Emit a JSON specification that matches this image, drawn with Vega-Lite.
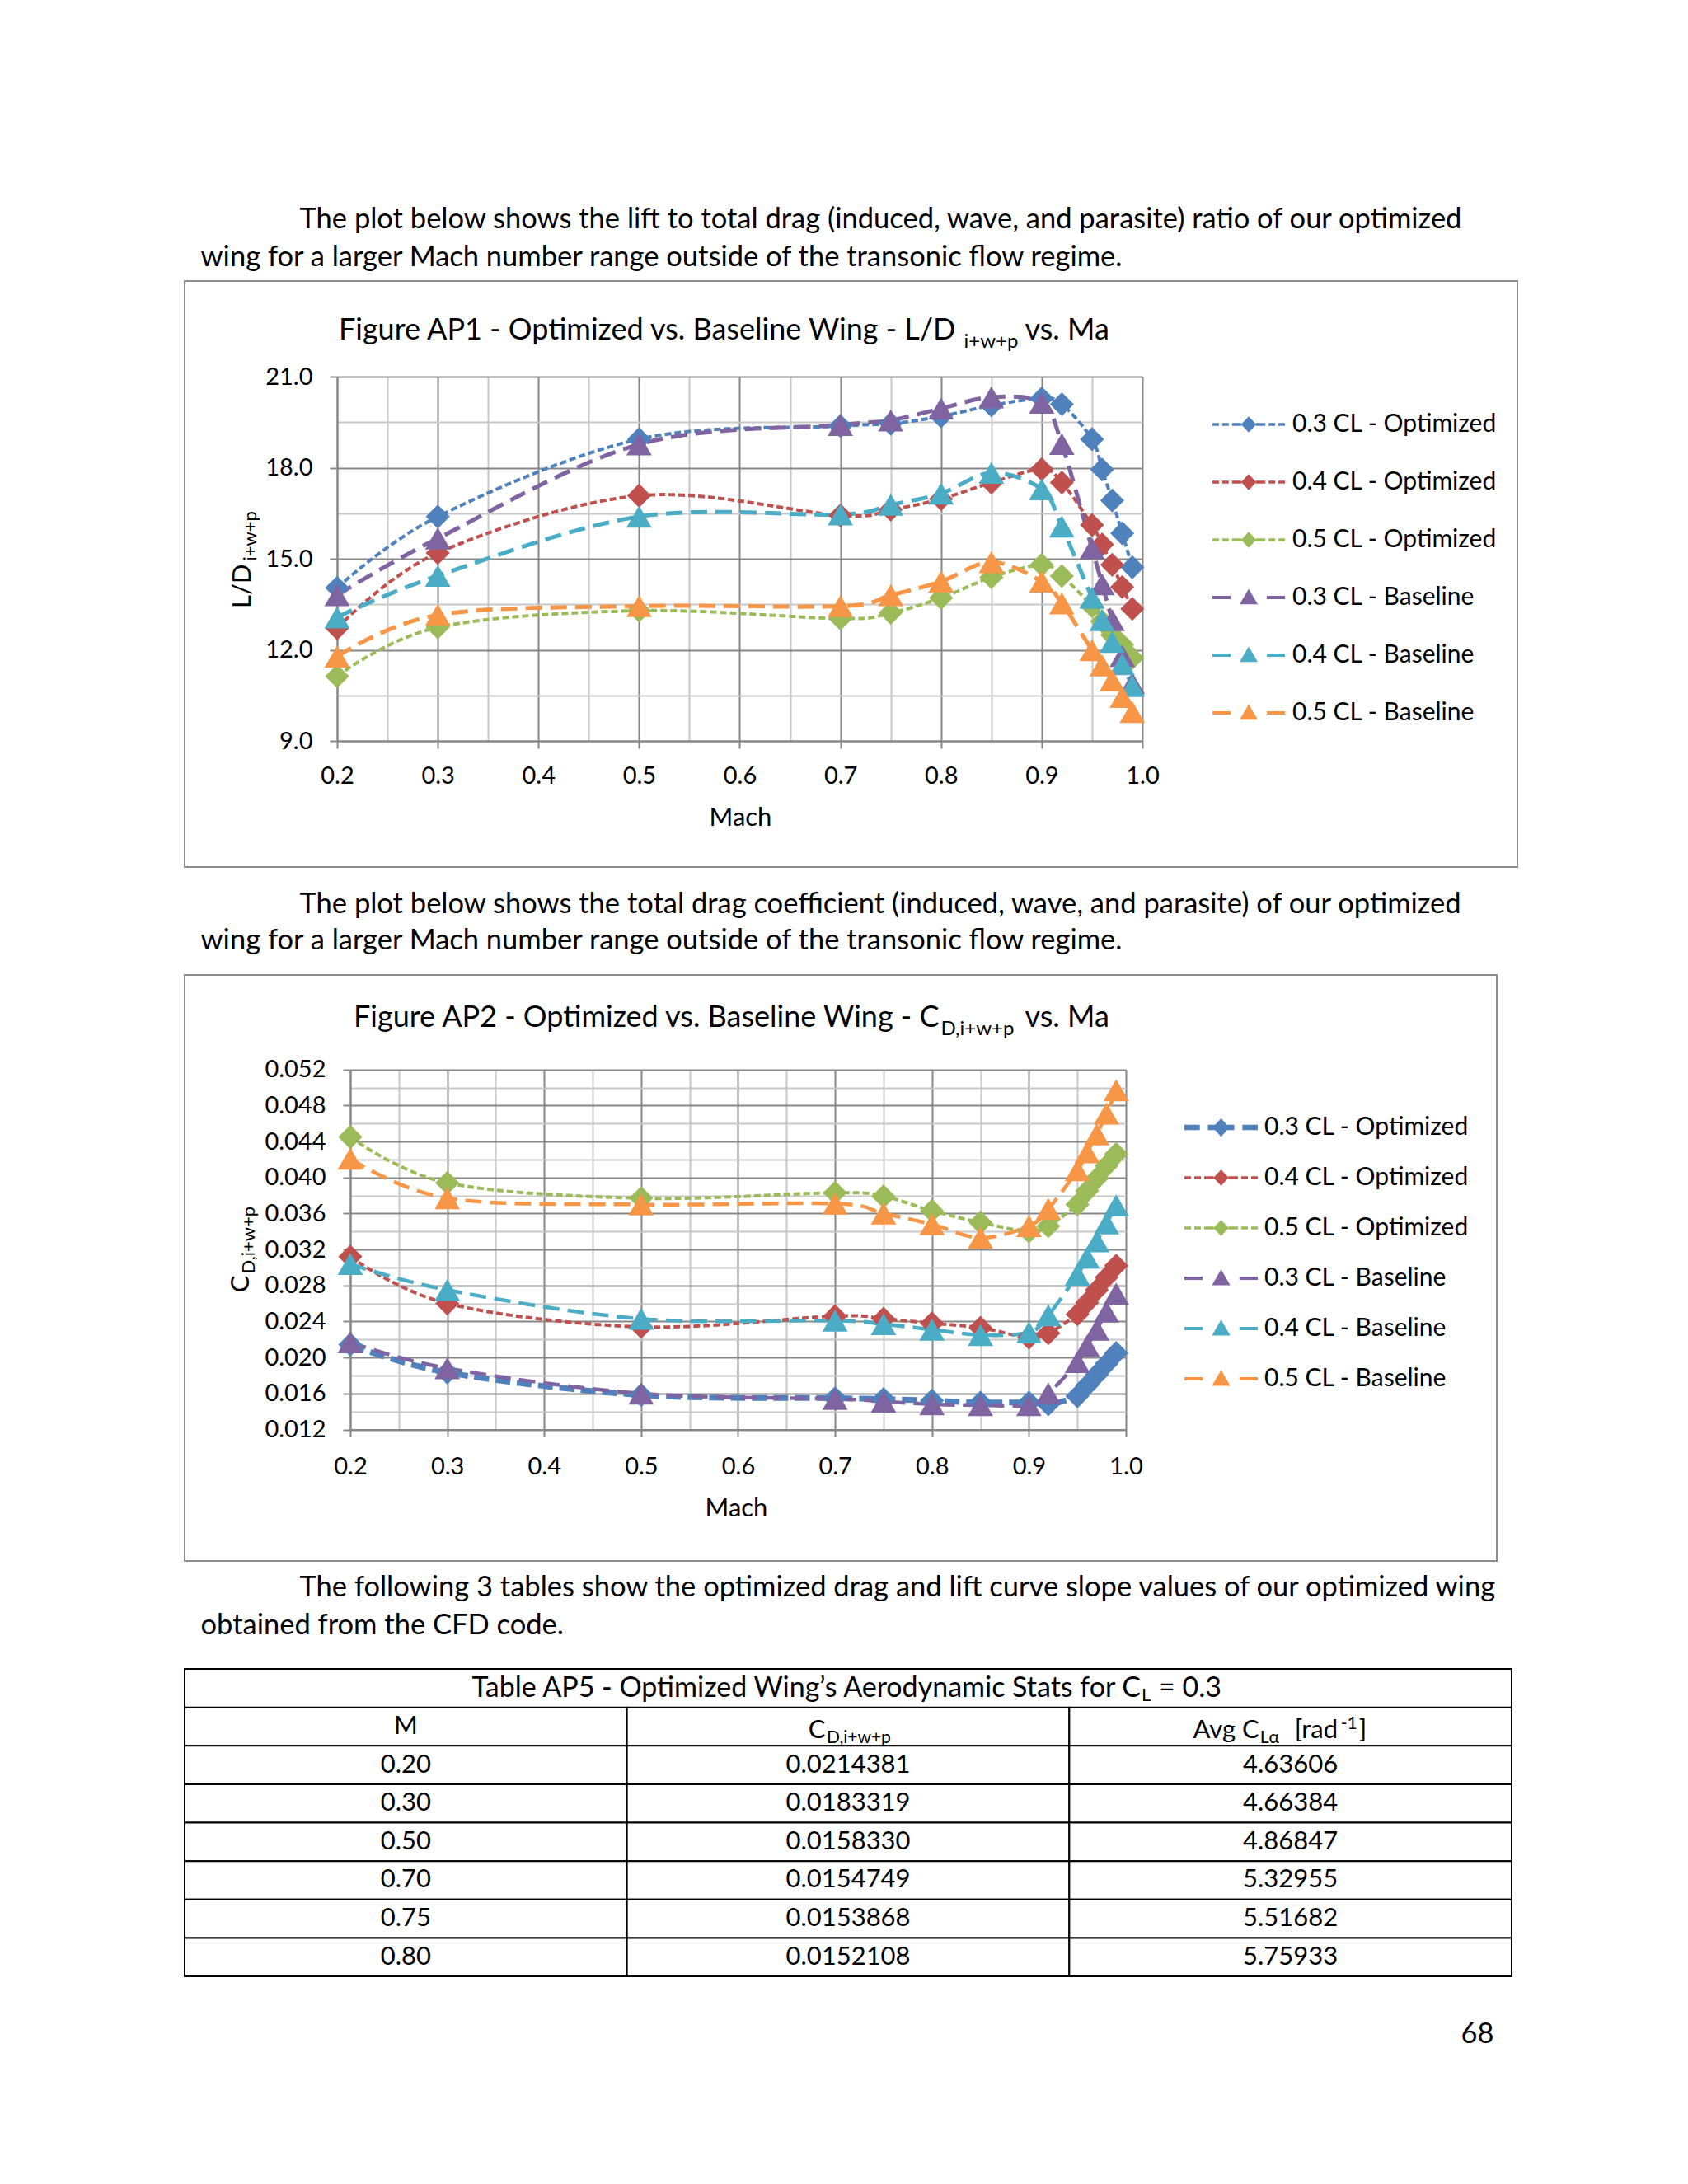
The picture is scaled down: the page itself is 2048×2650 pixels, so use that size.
{
"$schema":"https://vega.github.io/schema/vega-lite/v6.json",
"background":"white",
"padding":{"left":222,"top":247,"right":0,"bottom":0},
"spacing":131,
"bounds":"flush",
"resolve":{"scale":{"color":"independent","fill":"independent","shape":"independent"},"legend":{"color":"independent","fill":"independent","shape":"independent"}},
"config":{"font":"Lato","view":{"stroke":null},
"axis":{"labelFont":"Lato","titleFont":"Lato","labelColor":"black","titleColor":"black","titleFontWeight":"normal","labelFlush":false,"labelOverlap":false},
"legend":{"labelFont":"Lato","labelColor":"black","labelLimit":400},
"title":{"font":"Lato","fontWeight":"normal","color":"black"}},
"datasets":{
"ld":[
{"s":"0.3 CL - Optimized","m":0.2,"v":14.04},{"s":"0.3 CL - Optimized","m":0.3,"v":16.39},{"s":"0.3 CL - Optimized","m":0.5,"v":18.94},{"s":"0.3 CL - Optimized","m":0.7,"v":19.37},{"s":"0.3 CL - Optimized","m":0.75,"v":19.45},{"s":"0.3 CL - Optimized","m":0.8,"v":19.69},{"s":"0.3 CL - Optimized","m":0.85,"v":20.05},{"s":"0.3 CL - Optimized","m":0.9,"v":20.28},{"s":"0.3 CL - Optimized","m":0.92,"v":20.09},{"s":"0.3 CL - Optimized","m":0.95,"v":18.94},{"s":"0.3 CL - Optimized","m":0.96,"v":17.94},{"s":"0.3 CL - Optimized","m":0.97,"v":16.92},{"s":"0.3 CL - Optimized","m":0.98,"v":15.84},{"s":"0.3 CL - Optimized","m":0.99,"v":14.72},
{"s":"0.4 CL - Optimized","m":0.2,"v":12.71},{"s":"0.4 CL - Optimized","m":0.3,"v":15.19},{"s":"0.4 CL - Optimized","m":0.5,"v":17.08},{"s":"0.4 CL - Optimized","m":0.7,"v":16.43},{"s":"0.4 CL - Optimized","m":0.75,"v":16.62},{"s":"0.4 CL - Optimized","m":0.8,"v":16.97},{"s":"0.4 CL - Optimized","m":0.85,"v":17.51},{"s":"0.4 CL - Optimized","m":0.9,"v":17.95},{"s":"0.4 CL - Optimized","m":0.92,"v":17.51},{"s":"0.4 CL - Optimized","m":0.95,"v":16.11},{"s":"0.4 CL - Optimized","m":0.96,"v":15.47},{"s":"0.4 CL - Optimized","m":0.97,"v":14.8},{"s":"0.4 CL - Optimized","m":0.98,"v":14.07},{"s":"0.4 CL - Optimized","m":0.99,"v":13.35},
{"s":"0.5 CL - Optimized","m":0.2,"v":11.13},{"s":"0.5 CL - Optimized","m":0.3,"v":12.74},{"s":"0.5 CL - Optimized","m":0.5,"v":13.29},{"s":"0.5 CL - Optimized","m":0.7,"v":13.03},{"s":"0.5 CL - Optimized","m":0.75,"v":13.22},{"s":"0.5 CL - Optimized","m":0.8,"v":13.71},{"s":"0.5 CL - Optimized","m":0.85,"v":14.39},{"s":"0.5 CL - Optimized","m":0.9,"v":14.8},{"s":"0.5 CL - Optimized","m":0.92,"v":14.43},{"s":"0.5 CL - Optimized","m":0.95,"v":13.44},{"s":"0.5 CL - Optimized","m":0.96,"v":12.94},{"s":"0.5 CL - Optimized","m":0.97,"v":12.49},{"s":"0.5 CL - Optimized","m":0.98,"v":12.17},{"s":"0.5 CL - Optimized","m":0.99,"v":11.73},
{"s":"0.3 CL - Baseline","m":0.2,"v":13.8},{"s":"0.3 CL - Baseline","m":0.3,"v":15.67},{"s":"0.3 CL - Baseline","m":0.5,"v":18.77},{"s":"0.3 CL - Baseline","m":0.7,"v":19.41},{"s":"0.3 CL - Baseline","m":0.75,"v":19.56},{"s":"0.3 CL - Baseline","m":0.8,"v":19.95},{"s":"0.3 CL - Baseline","m":0.85,"v":20.32},{"s":"0.3 CL - Baseline","m":0.9,"v":20.14},{"s":"0.3 CL - Baseline","m":0.92,"v":18.78},{"s":"0.3 CL - Baseline","m":0.95,"v":15.34},{"s":"0.3 CL - Baseline","m":0.96,"v":14.16},{"s":"0.3 CL - Baseline","m":0.97,"v":12.98},{"s":"0.3 CL - Baseline","m":0.98,"v":11.8},{"s":"0.3 CL - Baseline","m":0.99,"v":10.9},
{"s":"0.4 CL - Baseline","m":0.2,"v":13.07},{"s":"0.4 CL - Baseline","m":0.3,"v":14.44},{"s":"0.4 CL - Baseline","m":0.5,"v":16.39},{"s":"0.4 CL - Baseline","m":0.7,"v":16.46},{"s":"0.4 CL - Baseline","m":0.75,"v":16.78},{"s":"0.4 CL - Baseline","m":0.8,"v":17.15},{"s":"0.4 CL - Baseline","m":0.85,"v":17.83},{"s":"0.4 CL - Baseline","m":0.9,"v":17.29},{"s":"0.4 CL - Baseline","m":0.92,"v":16.06},{"s":"0.4 CL - Baseline","m":0.95,"v":13.71},{"s":"0.4 CL - Baseline","m":0.96,"v":12.98},{"s":"0.4 CL - Baseline","m":0.97,"v":12.26},{"s":"0.4 CL - Baseline","m":0.98,"v":11.53},{"s":"0.4 CL - Baseline","m":0.99,"v":10.81},
{"s":"0.5 CL - Baseline","m":0.2,"v":11.78},{"s":"0.5 CL - Baseline","m":0.3,"v":13.15},{"s":"0.5 CL - Baseline","m":0.5,"v":13.44},{"s":"0.5 CL - Baseline","m":0.7,"v":13.44},{"s":"0.5 CL - Baseline","m":0.75,"v":13.8},{"s":"0.5 CL - Baseline","m":0.8,"v":14.25},{"s":"0.5 CL - Baseline","m":0.85,"v":14.89},{"s":"0.5 CL - Baseline","m":0.9,"v":14.25},{"s":"0.5 CL - Baseline","m":0.92,"v":13.53},{"s":"0.5 CL - Baseline","m":0.95,"v":11.99},{"s":"0.5 CL - Baseline","m":0.96,"v":11.49},{"s":"0.5 CL - Baseline","m":0.97,"v":11.0},{"s":"0.5 CL - Baseline","m":0.98,"v":10.45},{"s":"0.5 CL - Baseline","m":0.99,"v":9.95}
],
"cd":[
{"s":"0.3 CL - Optimized","m":0.2,"v":0.0214381},{"s":"0.3 CL - Optimized","m":0.3,"v":0.0183319},{"s":"0.3 CL - Optimized","m":0.5,"v":0.015833},{"s":"0.3 CL - Optimized","m":0.7,"v":0.0154749},{"s":"0.3 CL - Optimized","m":0.75,"v":0.0153868},{"s":"0.3 CL - Optimized","m":0.8,"v":0.0152108},{"s":"0.3 CL - Optimized","m":0.85,"v":0.015},{"s":"0.3 CL - Optimized","m":0.9,"v":0.015},{"s":"0.3 CL - Optimized","m":0.92,"v":0.0148},{"s":"0.3 CL - Optimized","m":0.95,"v":0.0157},{"s":"0.3 CL - Optimized","m":0.96,"v":0.0169},{"s":"0.3 CL - Optimized","m":0.97,"v":0.0181},{"s":"0.3 CL - Optimized","m":0.98,"v":0.0193},{"s":"0.3 CL - Optimized","m":0.99,"v":0.0205},
{"s":"0.4 CL - Optimized","m":0.2,"v":0.0312},{"s":"0.4 CL - Optimized","m":0.3,"v":0.026},{"s":"0.4 CL - Optimized","m":0.5,"v":0.0234},{"s":"0.4 CL - Optimized","m":0.7,"v":0.0246},{"s":"0.4 CL - Optimized","m":0.75,"v":0.0243},{"s":"0.4 CL - Optimized","m":0.8,"v":0.0238},{"s":"0.4 CL - Optimized","m":0.85,"v":0.0233},{"s":"0.4 CL - Optimized","m":0.9,"v":0.0222},{"s":"0.4 CL - Optimized","m":0.92,"v":0.0227},{"s":"0.4 CL - Optimized","m":0.95,"v":0.0248},{"s":"0.4 CL - Optimized","m":0.96,"v":0.0261},{"s":"0.4 CL - Optimized","m":0.97,"v":0.0275},{"s":"0.4 CL - Optimized","m":0.98,"v":0.0289},{"s":"0.4 CL - Optimized","m":0.99,"v":0.0302},
{"s":"0.5 CL - Optimized","m":0.2,"v":0.0445},{"s":"0.5 CL - Optimized","m":0.3,"v":0.0394},{"s":"0.5 CL - Optimized","m":0.5,"v":0.0377},{"s":"0.5 CL - Optimized","m":0.7,"v":0.0383},{"s":"0.5 CL - Optimized","m":0.75,"v":0.0379},{"s":"0.5 CL - Optimized","m":0.8,"v":0.0363},{"s":"0.5 CL - Optimized","m":0.85,"v":0.035},{"s":"0.5 CL - Optimized","m":0.9,"v":0.034},{"s":"0.5 CL - Optimized","m":0.92,"v":0.0346},{"s":"0.5 CL - Optimized","m":0.95,"v":0.037},{"s":"0.5 CL - Optimized","m":0.96,"v":0.0385},{"s":"0.5 CL - Optimized","m":0.97,"v":0.0399},{"s":"0.5 CL - Optimized","m":0.98,"v":0.0413},{"s":"0.5 CL - Optimized","m":0.99,"v":0.0426},
{"s":"0.3 CL - Baseline","m":0.2,"v":0.0217},{"s":"0.3 CL - Baseline","m":0.3,"v":0.0188},{"s":"0.3 CL - Baseline","m":0.5,"v":0.016},{"s":"0.3 CL - Baseline","m":0.7,"v":0.0154},{"s":"0.3 CL - Baseline","m":0.75,"v":0.0151},{"s":"0.3 CL - Baseline","m":0.8,"v":0.0148},{"s":"0.3 CL - Baseline","m":0.85,"v":0.0147},{"s":"0.3 CL - Baseline","m":0.9,"v":0.0147},{"s":"0.3 CL - Baseline","m":0.92,"v":0.016},{"s":"0.3 CL - Baseline","m":0.95,"v":0.0195},{"s":"0.3 CL - Baseline","m":0.96,"v":0.0213},{"s":"0.3 CL - Baseline","m":0.97,"v":0.0231},{"s":"0.3 CL - Baseline","m":0.98,"v":0.0251},{"s":"0.3 CL - Baseline","m":0.99,"v":0.0271},
{"s":"0.4 CL - Baseline","m":0.2,"v":0.0304},{"s":"0.4 CL - Baseline","m":0.3,"v":0.0275},{"s":"0.4 CL - Baseline","m":0.5,"v":0.0243},{"s":"0.4 CL - Baseline","m":0.7,"v":0.0241},{"s":"0.4 CL - Baseline","m":0.75,"v":0.0237},{"s":"0.4 CL - Baseline","m":0.8,"v":0.0231},{"s":"0.4 CL - Baseline","m":0.85,"v":0.0225},{"s":"0.4 CL - Baseline","m":0.9,"v":0.0228},{"s":"0.4 CL - Baseline","m":0.92,"v":0.0247},{"s":"0.4 CL - Baseline","m":0.95,"v":0.0292},{"s":"0.4 CL - Baseline","m":0.96,"v":0.0311},{"s":"0.4 CL - Baseline","m":0.97,"v":0.0329},{"s":"0.4 CL - Baseline","m":0.98,"v":0.0349},{"s":"0.4 CL - Baseline","m":0.99,"v":0.0369},
{"s":"0.5 CL - Baseline","m":0.2,"v":0.0421},{"s":"0.5 CL - Baseline","m":0.3,"v":0.0377},{"s":"0.5 CL - Baseline","m":0.5,"v":0.037},{"s":"0.5 CL - Baseline","m":0.7,"v":0.0371},{"s":"0.5 CL - Baseline","m":0.75,"v":0.036},{"s":"0.5 CL - Baseline","m":0.8,"v":0.0348},{"s":"0.5 CL - Baseline","m":0.85,"v":0.0333},{"s":"0.5 CL - Baseline","m":0.9,"v":0.0346},{"s":"0.5 CL - Baseline","m":0.92,"v":0.0365},{"s":"0.5 CL - Baseline","m":0.95,"v":0.0408},{"s":"0.5 CL - Baseline","m":0.96,"v":0.0428},{"s":"0.5 CL - Baseline","m":0.97,"v":0.0448},{"s":"0.5 CL - Baseline","m":0.98,"v":0.0471},{"s":"0.5 CL - Baseline","m":0.99,"v":0.0497}
]},
"vconcat":[
{
"width":1617,"height":711,
"view":{"stroke":"#8c8c8c","strokeWidth":2},
"data":{"name":"ld"},
"resolve":{"axis":{"x":"independent","y":"independent"},"legend":{"color":"independent"}},
"layer":[
{"transform":[{"filter":"indexof(datum.s,'Optimized')>=0"}],
"mark":{"type":"line","interpolate":"cardinal","strokeDash":[8,4],"strokeWidth":4},
"encoding":{
"x":{"field":"m","type":"quantitative","scale":{"domain":[0.2,1.0],"range":[185,1162],"nice":false,"zero":false},
"axis":{"orient":"top","values":[0.2,0.25,0.3,0.35,0.4,0.45,0.5,0.55,0.6,0.65,0.7,0.75,0.8,0.85,0.9,0.95,1.0],"grid":true,"gridColor":{"condition":{"test":"abs(datum.value*10-round(datum.value*10))<0.01","value":"#878787"},"value":"#c8c8c8"},"gridWidth":2,"labels":false,"ticks":false,"domain":false,
"title":"Figure AP1 - Optimized vs. Baseline Wing - L/D","titleX":935,"titleY":70,"titleAlign":"right","titleBaseline":"alphabetic","titleAngle":0,"titleFontSize":36}},
"y":{"field":"v","type":"quantitative","scale":{"domain":[9,21],"range":[558,116],"nice":false,"zero":false},
"axis":{"orient":"left","offset":-185,"values":[9,10.5,12,13.5,15,16.5,18,19.5,21],"grid":true,"gridColor":{"condition":{"test":"abs(datum.value/3-round(datum.value/3))<0.01","value":"#878787"},"value":"#c8c8c8"},"gridWidth":2,"domain":true,"domainColor":"#878787","domainWidth":2,"ticks":true,"tickSize":9,"tickWidth":2,"tickColor":"#878787","tickOpacity":{"condition":{"test":"abs(datum.value/3-round(datum.value/3))<0.01","value":1},"value":0},
"labelExpr":"abs(datum.value/3-round(datum.value/3))<0.01 ? format(datum.value,'.1f') : ''","labelFontSize":29,"labelPadding":21,
"title":"L/D","titleX":-106,"titleY":343,"titleAngle":-90,"titleAlign":"right","titleBaseline":"alphabetic","titleFontSize":31}},
"color":{"field":"s","type":"nominal","scale":{"domain":["0.5 CL - Baseline","0.4 CL - Baseline","0.3 CL - Baseline","0.5 CL - Optimized","0.4 CL - Optimized","0.3 CL - Optimized"],"range":["#F79646","#4BACC6","#8064A2","#9BBB59","#C0504D","#4F81BD"]},"legend":null}}},
{"transform":[{"filter":"indexof(datum.s,'Baseline')>=0"}],
"mark":{"type":"line","interpolate":"cardinal","strokeDash":[20,10],"strokeWidth":5},
"encoding":{
"x":{"field":"m","type":"quantitative","scale":{"domain":[0.2,1.0],"range":[185,1162],"nice":false,"zero":false},
"axis":{"orient":"bottom","offset":-153,"values":[0.2,0.3,0.4,0.5,0.6,0.7,0.8,0.9,1.0],"format":".1f","grid":false,"domain":true,"domainColor":"#878787","domainWidth":2,"ticks":true,"tickSize":9,"tickWidth":2,"tickColor":"#878787","labelFontSize":29,"labelPadding":33,"labelBaseline":"middle",
"title":"Mach","titleX":674,"titleY":93,"titleAlign":"center","titleBaseline":"middle","titleAngle":0,"titleFontSize":31}},
"y":{"field":"v","type":"quantitative","scale":{"domain":[9,21],"range":[558,116],"nice":false,"zero":false},
"axis":{"orient":"left","labels":false,"ticks":false,"domain":false,"grid":false,"title":"i+w+p","titleX":86,"titleY":339,"titleAngle":-90,"titleAlign":"left","titleBaseline":"alphabetic","titleFontSize":22}},
"color":{"field":"s","type":"nominal","scale":{"domain":["0.5 CL - Baseline","0.4 CL - Baseline","0.3 CL - Baseline","0.5 CL - Optimized","0.4 CL - Optimized","0.3 CL - Optimized"],"range":["#F79646","#4BACC6","#8064A2","#9BBB59","#C0504D","#4F81BD"]},"legend":null}}},
{"transform":[{"filter":"indexof(datum.s,'Optimized')>=0"}],
"mark":{"type":"point","shape":"diamond","filled":true,"size":850,"opacity":1},
"encoding":{
"x":{"field":"m","type":"quantitative","scale":{"domain":[0.2,1.0],"range":[185,1162],"nice":false,"zero":false},
"axis":{"orient":"top","labels":false,"ticks":false,"domain":false,"grid":false,"title":"i+w+p","titleX":945,"titleY":80,"titleAlign":"left","titleBaseline":"alphabetic","titleAngle":0,"titleFontSize":24}},
"y":{"field":"v","type":"quantitative","scale":{"domain":[9,21],"range":[558,116],"nice":false,"zero":false},
"axis":{"orient":"left","labels":false,"ticks":false,"domain":false,"grid":false,"title":"vs. Ma","titleX":1019,"titleY":70,"titleAngle":0,"titleAlign":"left","titleBaseline":"alphabetic","titleFontSize":36}},
"color":{"field":"s","type":"nominal","scale":{"domain":["0.5 CL - Baseline","0.4 CL - Baseline","0.3 CL - Baseline","0.5 CL - Optimized","0.4 CL - Optimized","0.3 CL - Optimized"],"range":["#F79646","#4BACC6","#8064A2","#9BBB59","#C0504D","#4F81BD"]},"legend":null}}},
{"transform":[{"filter":"indexof(datum.s,'Baseline')>=0"}],
"mark":{"type":"point","shape":"triangle-up","filled":true,"size":950,"opacity":1},
"encoding":{
"x":{"field":"m","type":"quantitative","scale":{"domain":[0.2,1.0],"range":[185,1162],"nice":false,"zero":false},
"axis":{"orient":"top","labels":false,"ticks":false,"domain":false,"grid":false,"title":"The plot below shows the lift to total drag (induced, wave, and parasite) ratio of our optimized","titleX":139,"titleY":-75,"titleAlign":"left","titleBaseline":"middle","titleAngle":0,"titleFontSize":34.5}},
"y":{"field":"v","type":"quantitative","scale":{"domain":[9,21],"range":[558,116],"nice":false,"zero":false},
"axis":{"orient":"left","labels":false,"ticks":false,"domain":false,"grid":false,"title":"wing for a larger Mach number range outside of the transonic flow regime.","titleX":19,"titleY":-29,"titleAlign":"left","titleBaseline":"middle","titleAngle":0,"titleFontSize":34.5}},
"color":{"field":"s","type":"nominal","scale":{"domain":["0.5 CL - Baseline","0.4 CL - Baseline","0.3 CL - Baseline","0.5 CL - Optimized","0.4 CL - Optimized","0.3 CL - Optimized"],"range":["#F79646","#4BACC6","#8064A2","#9BBB59","#C0504D","#4F81BD"]},"legend":null}}},
{"transform":[{"filter":"datum.m==0.2"}],
"mark":{"type":"point","filled":true,"opacity":1,"size":1},
"encoding":{
"x":{"field":"m","type":"quantitative","scale":{"domain":[0.2,1.0],"range":[185,1162],"nice":false,"zero":false},"axis":null},
"y":{"field":"v","type":"quantitative","scale":{"domain":[9,21],"range":[558,116],"nice":false,"zero":false},"axis":null},
"fill":{"field":"s","type":"nominal","scale":{"domain":["0.3 CL - Optimized","0.4 CL - Optimized","0.5 CL - Optimized","0.3 CL - Baseline","0.4 CL - Baseline","0.5 CL - Baseline"],"range":["#4F81BD","#C0504D","#9BBB59","#8064A2","#4BACC6","#F79646"]},
"legend":{"orient":"none","legendX":1247,"legendY":130,"direction":"vertical","title":null,"padding":0,"symbolSize":7744,"symbolStrokeWidth":0,"symbolOpacity":1,"labelFontSize":30,"labelOffset":9,"labelLimit":400,"rowPadding":11}},
"shape":{"field":"s","type":"nominal","scale":{"domain":["0.3 CL - Optimized","0.4 CL - Optimized","0.5 CL - Optimized","0.3 CL - Baseline","0.4 CL - Baseline","0.5 CL - Baseline"],"range":["M-1,-0.04L-0.82,-0.04L-0.82,0.04L-1,0.04ZM-0.73,-0.04L-0.55,-0.04L-0.55,0.04L-0.73,0.04ZM-0.46,-0.04L-0.2,-0.04L-0.2,0.04L-0.46,0.04ZM0.2,-0.04L0.46,-0.04L0.46,0.04L0.2,0.04ZM0.55,-0.04L0.73,-0.04L0.73,0.04L0.55,0.04ZM0.82,-0.04L1,-0.04L1,0.04L0.82,0.04ZM0,-0.22L0.21,0L0,0.22L-0.21,0Z","M-1,-0.04L-0.82,-0.04L-0.82,0.04L-1,0.04ZM-0.73,-0.04L-0.55,-0.04L-0.55,0.04L-0.73,0.04ZM-0.46,-0.04L-0.2,-0.04L-0.2,0.04L-0.46,0.04ZM0.2,-0.04L0.46,-0.04L0.46,0.04L0.2,0.04ZM0.55,-0.04L0.73,-0.04L0.73,0.04L0.55,0.04ZM0.82,-0.04L1,-0.04L1,0.04L0.82,0.04ZM0,-0.22L0.21,0L0,0.22L-0.21,0Z","M-1,-0.04L-0.82,-0.04L-0.82,0.04L-1,0.04ZM-0.73,-0.04L-0.55,-0.04L-0.55,0.04L-0.73,0.04ZM-0.46,-0.04L-0.2,-0.04L-0.2,0.04L-0.46,0.04ZM0.2,-0.04L0.46,-0.04L0.46,0.04L0.2,0.04ZM0.55,-0.04L0.73,-0.04L0.73,0.04L0.55,0.04ZM0.82,-0.04L1,-0.04L1,0.04L0.82,0.04ZM0,-0.22L0.21,0L0,0.22L-0.21,0Z","M-1,-0.045L-0.5,-0.045L-0.5,0.045L-1,0.045ZM0.5,-0.045L1,-0.045L1,0.045L0.5,0.045ZM0,-0.24L0.25,0.19L-0.25,0.19Z","M-1,-0.045L-0.5,-0.045L-0.5,0.045L-1,0.045ZM0.5,-0.045L1,-0.045L1,0.045L0.5,0.045ZM0,-0.24L0.25,0.19L-0.25,0.19Z","M-1,-0.045L-0.5,-0.045L-0.5,0.045L-1,0.045ZM0.5,-0.045L1,-0.045L1,0.045L0.5,0.045ZM0,-0.24L0.25,0.19L-0.25,0.19Z"]},
"legend":{"orient":"none","legendX":1247,"legendY":130,"direction":"vertical","title":null,"padding":0,"symbolSize":7744,"symbolStrokeWidth":0,"symbolOpacity":1,"labelFontSize":30,"labelOffset":9,"labelLimit":400,"rowPadding":11}}}}
]},
{
"width":1592,"height":711,
"view":{"stroke":"#8c8c8c","strokeWidth":2},
"data":{"name":"cd"},
"resolve":{"axis":{"x":"independent","y":"independent"},"legend":{"color":"independent"}},
"layer":[
{"transform":[{"filter":"datum.s=='0.3 CL - Optimized'"}],
"mark":{"type":"line","interpolate":"cardinal","strokeDash":[18,8],"strokeWidth":7},
"encoding":{
"x":{"field":"m","type":"quantitative","scale":{"domain":[0.2,1.0],"range":[201,1142],"nice":false,"zero":false},
"axis":{"orient":"top","values":[0.2,0.25,0.3,0.35,0.4,0.45,0.5,0.55,0.6,0.65,0.7,0.75,0.8,0.85,0.9,0.95,1.0],"grid":true,"gridColor":{"condition":{"test":"abs(datum.value*10-round(datum.value*10))<0.01","value":"#878787"},"value":"#c8c8c8"},"gridWidth":2,"labels":false,"ticks":false,"domain":false,
"title":"Figure AP2 - Optimized vs. Baseline Wing - C","titleX":915,"titleY":62,"titleAlign":"right","titleBaseline":"alphabetic","titleAngle":0,"titleFontSize":36}},
"y":{"field":"v","type":"quantitative","scale":{"domain":[0.012,0.052],"range":[551.5,114.7],"nice":false,"zero":false},
"axis":{"orient":"left","offset":-201,"values":[0.012,0.014,0.016,0.018,0.02,0.022,0.024,0.026,0.028,0.03,0.032,0.034,0.036,0.038,0.04,0.042,0.044,0.046,0.048,0.05,0.052],"grid":true,"gridColor":{"condition":{"test":"abs(datum.value/0.004-round(datum.value/0.004))<0.01","value":"#878787"},"value":"#c8c8c8"},"gridWidth":2,"domain":true,"domainColor":"#878787","domainWidth":2,"ticks":true,"tickSize":9,"tickWidth":2,"tickColor":"#878787","tickOpacity":{"condition":{"test":"abs(datum.value/0.004-round(datum.value/0.004))<0.01","value":1},"value":0},
"labelExpr":"abs(datum.value/0.004-round(datum.value/0.004))<0.01 ? format(datum.value,'.3f') : ''","labelFontSize":29,"labelPadding":21,
"title":"C","titleX":-124,"titleY":364,"titleAngle":-90,"titleAlign":"right","titleBaseline":"alphabetic","titleFontSize":31}},
"color":{"field":"s","type":"nominal","scale":{"domain":["0.5 CL - Baseline","0.4 CL - Baseline","0.3 CL - Baseline","0.5 CL - Optimized","0.4 CL - Optimized","0.3 CL - Optimized"],"range":["#F79646","#4BACC6","#8064A2","#9BBB59","#C0504D","#4F81BD"]},"legend":null}}},
{"transform":[{"filter":"datum.s=='0.4 CL - Optimized' || datum.s=='0.5 CL - Optimized'"}],
"mark":{"type":"line","interpolate":"cardinal","strokeDash":[8,4],"strokeWidth":4},
"encoding":{
"x":{"field":"m","type":"quantitative","scale":{"domain":[0.2,1.0],"range":[201,1142],"nice":false,"zero":false},
"axis":{"orient":"bottom","offset":-159.5,"values":[0.2,0.3,0.4,0.5,0.6,0.7,0.8,0.9,1.0],"format":".1f","grid":false,"domain":true,"domainColor":"#878787","domainWidth":2,"ticks":true,"tickSize":9,"tickWidth":2,"tickColor":"#878787","labelFontSize":29,"labelPadding":35.5,"labelBaseline":"middle",
"title":"Mach","titleX":669,"titleY":95.5,"titleAlign":"center","titleBaseline":"middle","titleAngle":0,"titleFontSize":31}},
"y":{"field":"v","type":"quantitative","scale":{"domain":[0.012,0.052],"range":[551.5,114.7],"nice":false,"zero":false},
"axis":{"orient":"left","labels":false,"ticks":false,"domain":false,"grid":false,"title":"D,i+w+p","titleX":84,"titleY":362,"titleAngle":-90,"titleAlign":"left","titleBaseline":"alphabetic","titleFontSize":22}},
"color":{"field":"s","type":"nominal","scale":{"domain":["0.5 CL - Baseline","0.4 CL - Baseline","0.3 CL - Baseline","0.5 CL - Optimized","0.4 CL - Optimized","0.3 CL - Optimized"],"range":["#F79646","#4BACC6","#8064A2","#9BBB59","#C0504D","#4F81BD"]},"legend":null}}},
{"transform":[{"filter":"indexof(datum.s,'Baseline')>=0"}],
"mark":{"type":"line","interpolate":"cardinal","strokeDash":[20,10],"strokeWidth":4.5},
"encoding":{
"x":{"field":"m","type":"quantitative","scale":{"domain":[0.2,1.0],"range":[201,1142],"nice":false,"zero":false},
"axis":{"orient":"top","labels":false,"ticks":false,"domain":false,"grid":false,"title":"D,i+w+p","titleX":917,"titleY":72,"titleAlign":"left","titleBaseline":"alphabetic","titleAngle":0,"titleFontSize":24}},
"y":{"field":"v","type":"quantitative","scale":{"domain":[0.012,0.052],"range":[551.5,114.7],"nice":false,"zero":false},
"axis":{"orient":"left","labels":false,"ticks":false,"domain":false,"grid":false,"title":"vs. Ma","titleX":1019,"titleY":62,"titleAngle":0,"titleAlign":"left","titleBaseline":"alphabetic","titleFontSize":36}},
"color":{"field":"s","type":"nominal","scale":{"domain":["0.5 CL - Baseline","0.4 CL - Baseline","0.3 CL - Baseline","0.5 CL - Optimized","0.4 CL - Optimized","0.3 CL - Optimized"],"range":["#F79646","#4BACC6","#8064A2","#9BBB59","#C0504D","#4F81BD"]},"legend":null}}},
{"transform":[{"filter":"indexof(datum.s,'Optimized')>=0"}],
"mark":{"type":"point","shape":"diamond","filled":true,"size":850,"opacity":1},
"encoding":{
"x":{"field":"m","type":"quantitative","scale":{"domain":[0.2,1.0],"range":[201,1142],"nice":false,"zero":false},
"axis":{"orient":"top","labels":false,"ticks":false,"domain":false,"grid":false,"title":"The plot below shows the total drag coefficient (induced, wave, and parasite) of our optimized","titleX":139,"titleY":-86,"titleAlign":"left","titleBaseline":"middle","titleAngle":0,"titleFontSize":34.5}},
"y":{"field":"v","type":"quantitative","scale":{"domain":[0.012,0.052],"range":[551.5,114.7],"nice":false,"zero":false},
"axis":{"orient":"left","labels":false,"ticks":false,"domain":false,"grid":false,"title":"wing for a larger Mach number range outside of the transonic flow regime.","titleX":19,"titleY":-42,"titleAlign":"left","titleBaseline":"middle","titleAngle":0,"titleFontSize":34.5}},
"color":{"field":"s","type":"nominal","scale":{"domain":["0.5 CL - Baseline","0.4 CL - Baseline","0.3 CL - Baseline","0.5 CL - Optimized","0.4 CL - Optimized","0.3 CL - Optimized"],"range":["#F79646","#4BACC6","#8064A2","#9BBB59","#C0504D","#4F81BD"]},"legend":null}}},
{"transform":[{"filter":"indexof(datum.s,'Baseline')>=0"}],
"mark":{"type":"point","shape":"triangle-up","filled":true,"size":950,"opacity":1},
"encoding":{
"x":{"field":"m","type":"quantitative","scale":{"domain":[0.2,1.0],"range":[201,1142],"nice":false,"zero":false},"axis":null},
"y":{"field":"v","type":"quantitative","scale":{"domain":[0.012,0.052],"range":[551.5,114.7],"nice":false,"zero":false},"axis":null},
"color":{"field":"s","type":"nominal","scale":{"domain":["0.5 CL - Baseline","0.4 CL - Baseline","0.3 CL - Baseline","0.5 CL - Optimized","0.4 CL - Optimized","0.3 CL - Optimized"],"range":["#F79646","#4BACC6","#8064A2","#9BBB59","#C0504D","#4F81BD"]},"legend":null}}},
{"transform":[{"filter":"datum.m==0.2"}],
"mark":{"type":"point","filled":true,"opacity":1,"size":1},
"encoding":{
"x":{"field":"m","type":"quantitative","scale":{"domain":[0.2,1.0],"range":[201,1142],"nice":false,"zero":false},"axis":null},
"y":{"field":"v","type":"quantitative","scale":{"domain":[0.012,0.052],"range":[551.5,114.7],"nice":false,"zero":false},"axis":null},
"fill":{"field":"s","type":"nominal","scale":{"domain":["0.3 CL - Optimized","0.4 CL - Optimized","0.5 CL - Optimized","0.3 CL - Baseline","0.4 CL - Baseline","0.5 CL - Baseline"],"range":["#4F81BD","#C0504D","#9BBB59","#8064A2","#4BACC6","#F79646"]},
"legend":{"orient":"none","legendX":1213,"legendY":140.5,"direction":"vertical","title":null,"padding":0,"symbolSize":7921,"symbolStrokeWidth":0,"symbolOpacity":1,"labelFontSize":30,"labelOffset":8,"labelLimit":400,"rowPadding":1}},
"shape":{"field":"s","type":"nominal","scale":{"domain":["0.3 CL - Optimized","0.4 CL - Optimized","0.5 CL - Optimized","0.3 CL - Baseline","0.4 CL - Baseline","0.5 CL - Baseline"],"range":["M-1,-0.075L-0.58,-0.075L-0.58,0.075L-1,0.075ZM-0.36,-0.075L0.36,-0.075L0.36,0.075L-0.36,0.075ZM0.58,-0.075L1,-0.075L1,0.075L0.58,0.075ZM0,-0.25L0.23,0L0,0.25L-0.23,0Z","M-1,-0.04L-0.82,-0.04L-0.82,0.04L-1,0.04ZM-0.73,-0.04L-0.55,-0.04L-0.55,0.04L-0.73,0.04ZM-0.46,-0.04L-0.2,-0.04L-0.2,0.04L-0.46,0.04ZM0.2,-0.04L0.46,-0.04L0.46,0.04L0.2,0.04ZM0.55,-0.04L0.73,-0.04L0.73,0.04L0.55,0.04ZM0.82,-0.04L1,-0.04L1,0.04L0.82,0.04ZM0,-0.22L0.21,0L0,0.22L-0.21,0Z","M-1,-0.04L-0.82,-0.04L-0.82,0.04L-1,0.04ZM-0.73,-0.04L-0.55,-0.04L-0.55,0.04L-0.73,0.04ZM-0.46,-0.04L-0.2,-0.04L-0.2,0.04L-0.46,0.04ZM0.2,-0.04L0.46,-0.04L0.46,0.04L0.2,0.04ZM0.55,-0.04L0.73,-0.04L0.73,0.04L0.55,0.04ZM0.82,-0.04L1,-0.04L1,0.04L0.82,0.04ZM0,-0.22L0.21,0L0,0.22L-0.21,0Z","M-1,-0.045L-0.5,-0.045L-0.5,0.045L-1,0.045ZM0.5,-0.045L1,-0.045L1,0.045L0.5,0.045ZM0,-0.24L0.25,0.19L-0.25,0.19Z","M-1,-0.045L-0.5,-0.045L-0.5,0.045L-1,0.045ZM0.5,-0.045L1,-0.045L1,0.045L0.5,0.045ZM0,-0.24L0.25,0.19L-0.25,0.19Z","M-1,-0.045L-0.5,-0.045L-0.5,0.045L-1,0.045ZM0.5,-0.045L1,-0.045L1,0.045L0.5,0.045ZM0,-0.24L0.25,0.19L-0.25,0.19Z"]},
"legend":{"orient":"none","legendX":1213,"legendY":140.5,"direction":"vertical","title":null,"padding":0,"symbolSize":7921,"symbolStrokeWidth":0,"symbolOpacity":1,"labelFontSize":30,"labelOffset":8,"labelLimit":400,"rowPadding":1}}}}
]},
{
"width":1610,"height":373,
"view":{"stroke":"black","strokeWidth":2},
"resolve":{"axis":{"x":"independent","y":"independent"}},
"layer":[
{"data":{"values":[{"r":"h","c":"a"},{"r":"h","c":"b"},{"r":"h","c":"c"},{"r":"1","c":"a"},{"r":"1","c":"b"},{"r":"1","c":"c"},{"r":"2","c":"a"},{"r":"2","c":"b"},{"r":"2","c":"c"},{"r":"3","c":"a"},{"r":"3","c":"b"},{"r":"3","c":"c"},{"r":"4","c":"a"},{"r":"4","c":"b"},{"r":"4","c":"c"},{"r":"5","c":"a"},{"r":"5","c":"b"},{"r":"5","c":"c"},{"r":"6","c":"a"},{"r":"6","c":"b"},{"r":"6","c":"c"}]},
"mark":{"type":"rect","fill":"white","stroke":"black","strokeWidth":2},
"encoding":{
"x":{"field":"c","type":"nominal","scale":{"type":"band","domain":["a","b","c"],"paddingInner":0,"paddingOuter":0},
"axis":{"orient":"bottom","labels":false,"ticks":false,"domain":false,"grid":false,"title":"68","titleX":1588,"titleY":70,"titleAlign":"right","titleBaseline":"middle","titleAngle":0,"titleFontSize":34.5}},
"y":{"field":"r","type":"nominal","scale":{"type":"band","domain":["t","h","1","2","3","4","5","6"],"paddingInner":0,"paddingOuter":0},
"axis":{"orient":"left","labels":false,"ticks":false,"domain":false,"grid":false,"title":"obtained from the CFD code.","titleX":19,"titleY":-53,"titleAlign":"left","titleBaseline":"middle","titleAngle":0,"titleFontSize":34.5}}}},
{"data":{"values":[{"r":"h","c":"a","t":"M"},{"r":"1","c":"a","t":"0.20"},{"r":"1","c":"b","t":"0.0214381"},{"r":"1","c":"c","t":"4.63606"},{"r":"2","c":"a","t":"0.30"},{"r":"2","c":"b","t":"0.0183319"},{"r":"2","c":"c","t":"4.66384"},{"r":"3","c":"a","t":"0.50"},{"r":"3","c":"b","t":"0.0158330"},{"r":"3","c":"c","t":"4.86847"},{"r":"4","c":"a","t":"0.70"},{"r":"4","c":"b","t":"0.0154749"},{"r":"4","c":"c","t":"5.32955"},{"r":"5","c":"a","t":"0.75"},{"r":"5","c":"b","t":"0.0153868"},{"r":"5","c":"c","t":"5.51682"},{"r":"6","c":"a","t":"0.80"},{"r":"6","c":"b","t":"0.0152108"},{"r":"6","c":"c","t":"5.75933"}]},
"mark":{"type":"text","fontSize":31,"align":"center","baseline":"middle","color":"black"},
"encoding":{"x":{"field":"c","type":"nominal","scale":{"type":"band","domain":["a","b","c"],"paddingInner":0,"paddingOuter":0},
"axis":{"orient":"top","labels":false,"ticks":false,"domain":false,"grid":false,"title":"The following 3 tables show the optimized drag and lift curve slope values of our optimized wing","titleX":139,"titleY":-99,"titleAlign":"left","titleBaseline":"middle","titleAngle":0,"titleFontSize":34.5}},
"y":{"field":"r","type":"nominal","scale":{"type":"band","domain":["t","h","1","2","3","4","5","6"],"paddingInner":0,"paddingOuter":0},"axis":null},"text":{"field":"t"}}},
{"data":{"values":[{"r":"t","c":"b","t":"Table AP5 - Optimized Wing’s Aerodynamic Stats for C"}]},
"mark":{"type":"text","fontSize":34,"align":"right","baseline":"alphabetic","dx":355,"dy":10.5,"color":"black"},
"encoding":{"x":{"field":"c","type":"nominal","scale":{"type":"band","domain":["a","b","c"],"paddingInner":0,"paddingOuter":0},"axis":null},"y":{"field":"r","type":"nominal","scale":{"type":"band","domain":["t","h","1","2","3","4","5","6"],"paddingInner":0,"paddingOuter":0},"axis":null},"text":{"field":"t"}}},
{"data":{"values":[{"r":"t","c":"b","t":"L"}]},
"mark":{"type":"text","fontSize":22,"align":"left","baseline":"alphabetic","dx":356,"dy":15.5,"color":"black"},
"encoding":{"x":{"field":"c","type":"nominal","scale":{"type":"band","domain":["a","b","c"],"paddingInner":0,"paddingOuter":0},"axis":null},"y":{"field":"r","type":"nominal","scale":{"type":"band","domain":["t","h","1","2","3","4","5","6"],"paddingInner":0,"paddingOuter":0},"axis":null},"text":{"field":"t"}}},
{"data":{"values":[{"r":"t","c":"b","t":"= 0.3"}]},
"mark":{"type":"text","fontSize":34,"align":"left","baseline":"alphabetic","dx":377,"dy":10.5,"color":"black"},
"encoding":{"x":{"field":"c","type":"nominal","scale":{"type":"band","domain":["a","b","c"],"paddingInner":0,"paddingOuter":0},"axis":null},"y":{"field":"r","type":"nominal","scale":{"type":"band","domain":["t","h","1","2","3","4","5","6"],"paddingInner":0,"paddingOuter":0},"axis":null},"text":{"field":"t"}}},
{"data":{"values":[{"r":"h","c":"b","t":"C"}]},
"mark":{"type":"text","fontSize":31,"align":"right","baseline":"alphabetic","dx":-27.5,"dy":14,"color":"black"},
"encoding":{"x":{"field":"c","type":"nominal","scale":{"type":"band","domain":["a","b","c"],"paddingInner":0,"paddingOuter":0},"axis":null},"y":{"field":"r","type":"nominal","scale":{"type":"band","domain":["t","h","1","2","3","4","5","6"],"paddingInner":0,"paddingOuter":0},"axis":null},"text":{"field":"t"}}},
{"data":{"values":[{"r":"h","c":"c","t":"Avg C"}]},
"mark":{"type":"text","fontSize":31,"align":"right","baseline":"alphabetic","dx":-38,"dy":14,"color":"black"},
"encoding":{"x":{"field":"c","type":"nominal","scale":{"type":"band","domain":["a","b","c"],"paddingInner":0,"paddingOuter":0},"axis":null},"y":{"field":"r","type":"nominal","scale":{"type":"band","domain":["t","h","1","2","3","4","5","6"],"paddingInner":0,"paddingOuter":0},"axis":null},"text":{"field":"t"}}},
{"data":{"values":[{"r":"h","c":"b","t":"D,i+w+p"}]},
"mark":{"type":"text","fontSize":21,"align":"left","baseline":"alphabetic","dx":-26,"dy":20,"color":"black"},
"encoding":{"x":{"field":"c","type":"nominal","scale":{"type":"band","domain":["a","b","c"],"paddingInner":0,"paddingOuter":0},"axis":null},"y":{"field":"r","type":"nominal","scale":{"type":"band","domain":["t","h","1","2","3","4","5","6"],"paddingInner":0,"paddingOuter":0},"axis":null},"text":{"field":"t"}}},
{"data":{"values":[{"r":"h","c":"c","t":"Lα"}]},
"mark":{"type":"text","fontSize":21,"align":"left","baseline":"alphabetic","dx":-37,"dy":20,"color":"black"},
"encoding":{"x":{"field":"c","type":"nominal","scale":{"type":"band","domain":["a","b","c"],"paddingInner":0,"paddingOuter":0},"axis":null},"y":{"field":"r","type":"nominal","scale":{"type":"band","domain":["t","h","1","2","3","4","5","6"],"paddingInner":0,"paddingOuter":0},"axis":null},"text":{"field":"t"}}},
{"data":{"values":[{"r":"h","c":"c","t":"[rad"}]},
"mark":{"type":"text","fontSize":31,"align":"left","baseline":"alphabetic","dx":5,"dy":14,"color":"black"},
"encoding":{"x":{"field":"c","type":"nominal","scale":{"type":"band","domain":["a","b","c"],"paddingInner":0,"paddingOuter":0},"axis":null},"y":{"field":"r","type":"nominal","scale":{"type":"band","domain":["t","h","1","2","3","4","5","6"],"paddingInner":0,"paddingOuter":0},"axis":null},"text":{"field":"t"}}},
{"data":{"values":[{"r":"h","c":"c","t":"-1"}]},
"mark":{"type":"text","fontSize":21,"align":"left","baseline":"alphabetic","dx":61,"dy":3,"color":"black"},
"encoding":{"x":{"field":"c","type":"nominal","scale":{"type":"band","domain":["a","b","c"],"paddingInner":0,"paddingOuter":0},"axis":null},"y":{"field":"r","type":"nominal","scale":{"type":"band","domain":["t","h","1","2","3","4","5","6"],"paddingInner":0,"paddingOuter":0},"axis":null},"text":{"field":"t"}}},
{"data":{"values":[{"r":"h","c":"c","t":"]"}]},
"mark":{"type":"text","fontSize":31,"align":"left","baseline":"alphabetic","dx":83,"dy":14,"color":"black"},
"encoding":{"x":{"field":"c","type":"nominal","scale":{"type":"band","domain":["a","b","c"],"paddingInner":0,"paddingOuter":0},"axis":null},"y":{"field":"r","type":"nominal","scale":{"type":"band","domain":["t","h","1","2","3","4","5","6"],"paddingInner":0,"paddingOuter":0},"axis":null},"text":{"field":"t"}}}
]}
]
}
